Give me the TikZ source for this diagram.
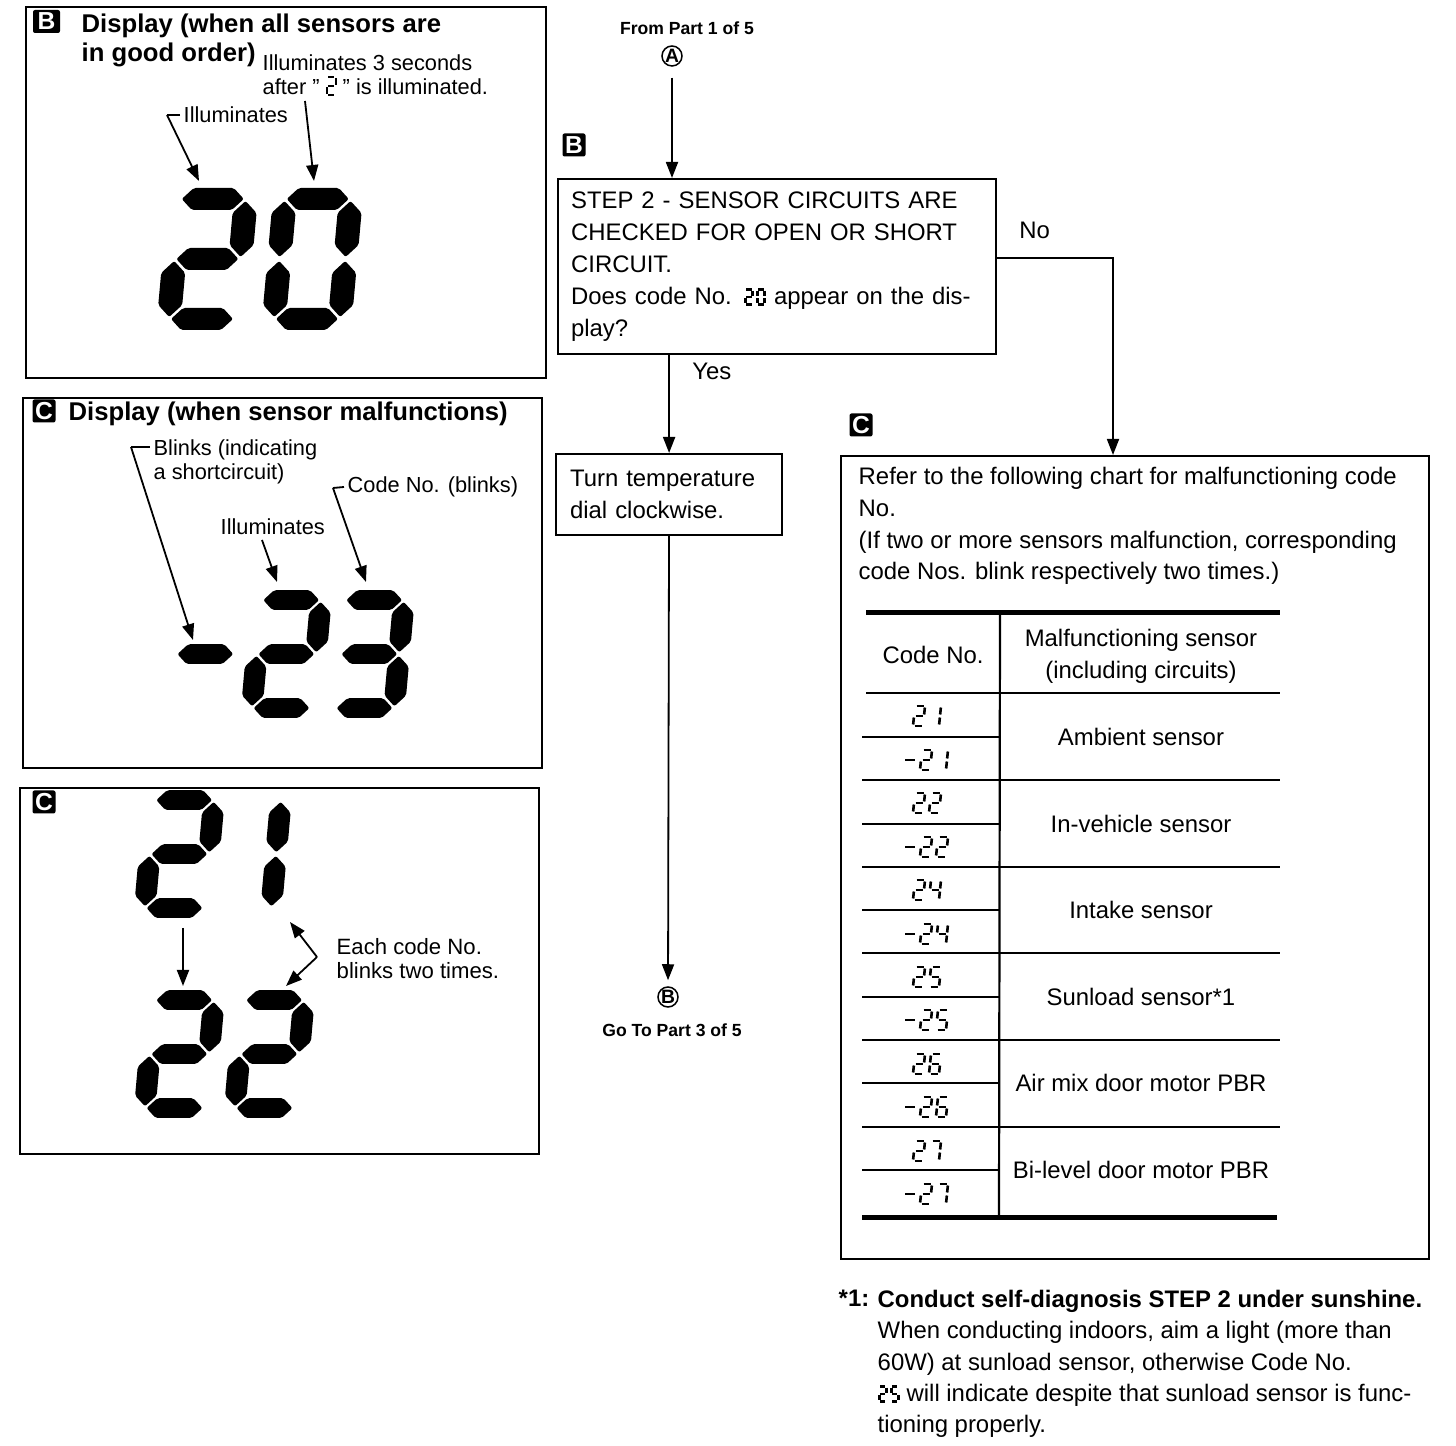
\documentclass[tikz,border=0pt]{standalone}
\usepackage{fontspec}
\setmainfont{Liberation Sans}
\usetikzlibrary{arrows.meta,positioning}

% large display segments (y grows downwards, digit foot at y=0)
\newcommand\segH[1]{\fill[rounded corners=0.2mm] (13,#1) -- ++(11,-11) -- ++(40,0) -- ++(11,11) -- ++(-11,11) -- ++(-40,0) -- cycle;}
\newcommand\segV[2]{\fill[rounded corners=0.2mm] (#1,#2) -- ++(12,-12) -- ++(0,-32) -- ++(-12,-12) -- ++(-12,12) -- ++(0,32) -- cycle;}
\newcommand\bsega{\segH{-131}}
\newcommand\bsegb{\segV{77}{-73}}
\newcommand\bsegc{\segV{77}{-13}}
\newcommand\bsegd{\segH{-11}}
\newcommand\bsege{\segV{11}{-13}}
\newcommand\bsegf{\segV{11}{-73}}
\newcommand\bsegg{\segH{-71}}

% small stroked display segments
\newcommand\lcda{\draw (1.5,-20) -- (8.5,-20);}
\newcommand\lcdb{\draw (10,-18.5) -- (10,-11.5);}
\newcommand\lcdc{\draw (10,-8.5) -- (10,-1.5);}
\newcommand\lcdd{\draw (1.5,0) -- (8.5,0);}
\newcommand\lcde{\draw (0,-8.5) -- (0,-1.5);}
\newcommand\lcdf{\draw (0,-18.5) -- (0,-11.5);}
\newcommand\lcdg{\draw (1.5,-10) -- (8.5,-10);}

\tikzset{
  big0/.pic={\bsega\bsegb\bsegc\bsegd\bsege\bsegf},
  big1/.pic={\bsegb\bsegc},
  big2/.pic={\bsega\bsegb\bsegg\bsege\bsegd},
  big3/.pic={\bsega\bsegb\bsegg\bsegc\bsegd},
  bigminus/.pic={\bsegg},
  lcd0/.pic={\lcda\lcdb\lcdc\lcdd\lcde\lcdf},
  lcd1/.pic={\lcdb\lcdc},
  lcd2/.pic={\lcda\lcdb\lcdg\lcde\lcdd},
  lcd4/.pic={\lcdf\lcdg\lcdb\lcdc},
  lcd5/.pic={\lcda\lcdf\lcdg\lcdc\lcdd},
  lcd6/.pic={\lcda\lcdf\lcdg\lcde\lcdc\lcdd},
  lcd7/.pic={\lcda\lcdb\lcdc},
  lcdminus/.pic={\draw (0,-10) -- (10,-10);}
}

% display digits set inside running text
\newcommand\lcdone[1]{\tikz[baseline=0pt,x=0.09mm,y=-0.09mm,line width=0.2mm,xslant=0.08]{\pic {lcd#1};}}
\newcommand\lcdtwo[2]{\tikz[baseline=0pt,x=0.075mm,y=-0.075mm,line width=0.28mm,xslant=0.08]{\pic at (0,0) {lcd#1}; \pic at (16,0) {lcd#2};}}

\begin{document}
\begin{tikzpicture}[
    x=0.1mm, y=-0.1mm,
    font=\fontsize{6.8}{9.1}\selectfont,
    box/.style={draw, line width=0.22mm, inner sep=0pt},
    txtbox/.style={draw, line width=0.22mm, align=left, inner xsep=1.3mm, inner ysep=0pt, anchor=north west},
    tag/.style={fill=black, text=white, font=\bfseries\fontsize{7}{7}\selectfont, inner sep=0pt,
                minimum width=2.3mm, minimum height=2.3mm, rounded corners=0.2mm},
    head/.style={font=\bfseries\fontsize{7.3}{8.5}\selectfont, align=left, inner sep=0pt},
    note/.style={font=\fontsize{6.2}{7.1}\selectfont, align=left, inner sep=0.3mm},
    tinybold/.style={font=\bfseries\fontsize{5}{6}\selectfont, inner sep=0pt},
    conn/.style={draw, circle, line width=0.15mm, inner sep=0pt, minimum size=2mm,
                 font=\bfseries\fontsize{5.5}{6}\selectfont},
    arrow/.style={-{Triangle[length=1.6mm,width=1.2mm]}, line width=0.18mm},
    leader/.style={line width=0.18mm},
    seg/.style={xslant=0.09},
    segsm/.style={xslant=0.09, scale=0.9},
    lcdcode/.style={line width=0.26mm, xslant=0.1},
    rule/.style={line width=0.22mm},
    heavyrule/.style={line width=0.5mm}
]
\useasboundingbox (0,0) rectangle (1456,1446);

% Display in good order
\node[box, minimum width=52mm, minimum height=37.1mm, anchor=north west] (okframe) at (25,6) {};
\node[tag, minimum width=2.7mm] (tagB1) at (46.5,21.5) {B};
\node[head, anchor=base west] (okhead) at (81,62) {Display (when all sensors are\\in good order)};
\node[note, anchor=base west] (okafter) at (259,95) {Illuminates 3 seconds\\after " \lcdone{2} " is illuminated.};
\node[note, anchor=west] (illA) at (180,115) {Illuminates};
\coordinate (illAbend) at (167,115);
\coordinate (illAtip) at (199,181);
\draw[leader] (illA.west) -- (illAbend);
\draw[arrow] (illAbend) -- (illAtip);
\coordinate (illBtail) at (305,101);
\coordinate (illBtip) at (314,181);
\draw[arrow] (illBtail) -- (illBtip);
\pic[seg] at (157,330) {big2};
\pic[seg] at (262,330) {big0};

% Display when a sensor fails
\node[box, minimum width=51.9mm, minimum height=37mm, anchor=north west] (badframe) at (22,397) {};
\node[tag] (tagC1) at (44,411) {C};
\node[head, anchor=west] (badhead) at (68,414) {Display (when sensor malfunctions)};
\node[note, anchor=base west] (blinks) at (150,480) {Blinks (indicating\\a shortcircuit)};
\coordinate (blinksbend) at (131,447);
\coordinate (blinkstip) at (193,640);
\draw[leader] (blinksbend) -- (blinksbend -| blinks.west);
\draw[arrow] (blinksbend) -- (blinkstip);
\node[note, anchor=west] (illC) at (217,527) {Illuminates};
\coordinate (illCtail) at (262,540);
\coordinate (illCtip) at (277,582);
\draw[arrow] (illCtail) -- (illCtip);
\node[note, anchor=west] (codeblink) at (344,487) {Code No. (blinks)};
\coordinate (codebend) at (333,488);
\coordinate (codetip) at (366,582);
\draw[leader] (codebend) -- (codeblink.west);
\draw[arrow] (codebend) -- (codetip);
\pic[segsm] at (160,718) {bigminus};
\pic[segsm] at (241,718) {big2};
\pic[segsm] at (324,718) {big3};

% Code sequence
\node[box, minimum width=51.9mm, minimum height=36.6mm, anchor=north west] (seqframe) at (19,787) {};
\node[tag] (tagC2) at (44,802) {C};
\pic[segsm] at (134,918) {big2};
\pic[segsm] at (201,918) {big1};
\pic[segsm] at (134,1118) {big2};
\pic[segsm] at (224,1118) {big2};
\coordinate (seqtail) at (183,928);
\coordinate (seqtip) at (183,986);
\draw[arrow] (seqtail) -- (seqtip);
\node[note, anchor=base west, font=\fontsize{6.3}{7.1}\selectfont] (twice) at (333,979) {Each code No.\\blinks two times.};
\coordinate (twicebend) at (317,957);
\coordinate (twiceup) at (290,922);
\coordinate (twicedown) at (286,986);
\draw[arrow] (twicebend) -- (twiceup);
\draw[arrow] (twicebend) -- (twicedown);

% Flow
\node[tinybold] (frompart) at (687,28) {From Part 1 of 5};
\node[conn] (conA) at (672,56) {A};
\node[tag] (tagB2) at (574,145) {B};
\node[txtbox, text width=41.2mm, minimum height=17.5mm] (step) at (557,178)
    {STEP 2 - SENSOR CIRCUITS ARE\\CHECKED FOR OPEN OR SHORT\\CIRCUIT.\\Does code No. \lcdtwo{2}{0} appear on the dis-\\play?};
\draw[arrow, shorten <=1.1mm] (conA) -- (conA |- step.north);
\node[anchor=west] (yes) at (680,371) {Yes};
\node[txtbox, text width=19.8mm, minimum height=8.1mm, inner xsep=1.4mm] (turn) at (555,453)
    {Turn temperature\\dial clockwise.};
\draw[arrow] (turn.north |- step.south) -- (turn.north);
\node[conn] (conB) at (668,997) {B};
\draw[arrow, shorten >=0.6mm] (turn) -- (conB);
\node[tinybold] (gopart) at (672,1030) {Go To Part 3 of 5};

% Malfunction chart
\node[tag] (tagC3) at (861,425) {C};
\node[box, minimum width=58.8mm, minimum height=80.3mm, anchor=north west] (chart) at (840,455) {};
\node[anchor=west] (no) at (1007,230) {No};
\coordinate (nobend) at (1113,258);
\draw[arrow] (step.east |- nobend) -- (nobend) -- (nobend |- chart.north);
\node[anchor=base west, align=left, inner sep=0pt] (chartintro) at (858,580)
    {Refer to the following chart for malfunctioning code\\No.\\(If two or more sensors malfunction, corresponding\\code Nos. blink respectively two times.)};

\draw[heavyrule] (866,613) -- (1280,613);
\draw[rule] (1000,613) -- (999,1218);
\draw[rule] (866,693) -- (1280,693);
\draw[rule] (862,780) -- (1280,780);
\draw[rule] (862,867) -- (1280,867);
\draw[rule] (862,953) -- (1280,953);
\draw[rule] (862,1040) -- (1280,1040);
\draw[rule] (862,1127) -- (1280,1127);
\draw[rule] (862,737) -- (999,737);
\draw[rule] (862,824) -- (999,824);
\draw[rule] (862,910) -- (999,910);
\draw[rule] (862,997) -- (999,997);
\draw[rule] (862,1083) -- (999,1083);
\draw[rule] (862,1170) -- (999,1170);
\draw[heavyrule] (862,1218) -- (1277,1218);

\node (hcode) at (933,655) {Code No.};
\node[align=center] (hsensor) at (1141,656) {Malfunctioning sensor\\(including circuits)};
\node (ambient) at (1141,737) {Ambient sensor};
\node (invehicle) at (1141,824) {In-vehicle sensor};
\node (intake) at (1141,910) {Intake sensor};
\node (sunload) at (1141,997) {Sunload sensor*1};
\node (airmix) at (1141,1083) {Air mix door motor PBR};
\node (bilevel) at (1141,1170) {Bi-level door motor PBR};

% code numbers
\pic[lcdcode] at (913,726) {lcd2};
\pic[lcdcode] at (929,726) {lcd1};
\pic[lcdcode] at (904,770) {lcdminus};
\pic[lcdcode] at (920,770) {lcd2};
\pic[lcdcode] at (936,770) {lcd1};
\pic[lcdcode] at (913,813) {lcd2};
\pic[lcdcode] at (929,813) {lcd2};
\pic[lcdcode] at (904,857) {lcdminus};
\pic[lcdcode] at (920,857) {lcd2};
\pic[lcdcode] at (936,857) {lcd2};
\pic[lcdcode] at (913,900) {lcd2};
\pic[lcdcode] at (929,900) {lcd4};
\pic[lcdcode] at (904,944) {lcdminus};
\pic[lcdcode] at (920,944) {lcd2};
\pic[lcdcode] at (936,944) {lcd4};
\pic[lcdcode] at (913,987) {lcd2};
\pic[lcdcode] at (929,987) {lcd5};
\pic[lcdcode] at (904,1030) {lcdminus};
\pic[lcdcode] at (920,1030) {lcd2};
\pic[lcdcode] at (936,1030) {lcd5};
\pic[lcdcode] at (913,1074) {lcd2};
\pic[lcdcode] at (929,1074) {lcd6};
\pic[lcdcode] at (904,1117) {lcdminus};
\pic[lcdcode] at (920,1117) {lcd2};
\pic[lcdcode] at (936,1117) {lcd6};
\pic[lcdcode] at (913,1161) {lcd2};
\pic[lcdcode] at (929,1161) {lcd7};
\pic[lcdcode] at (904,1204) {lcdminus};
\pic[lcdcode] at (920,1204) {lcd2};
\pic[lcdcode] at (936,1204) {lcd7};

% Footnote
\node[anchor=base west, inner sep=0pt, font=\bfseries\fontsize{6.8}{9}\selectfont] (fnmark) at (838,1307) {*1:};
\node[anchor=base west, align=left, inner sep=0pt, font=\fontsize{6.8}{8.95}\selectfont] (fntext) at (877,1433)
    {\textbf{Conduct self-diagnosis STEP 2 under sunshine.}\\When conducting indoors, aim a light (more than\\60W) at sunload sensor, otherwise Code No.\\\lcdtwo{2}{5} will indicate despite that sunload sensor is func-\\tioning properly.};

\end{tikzpicture}
\end{document}
